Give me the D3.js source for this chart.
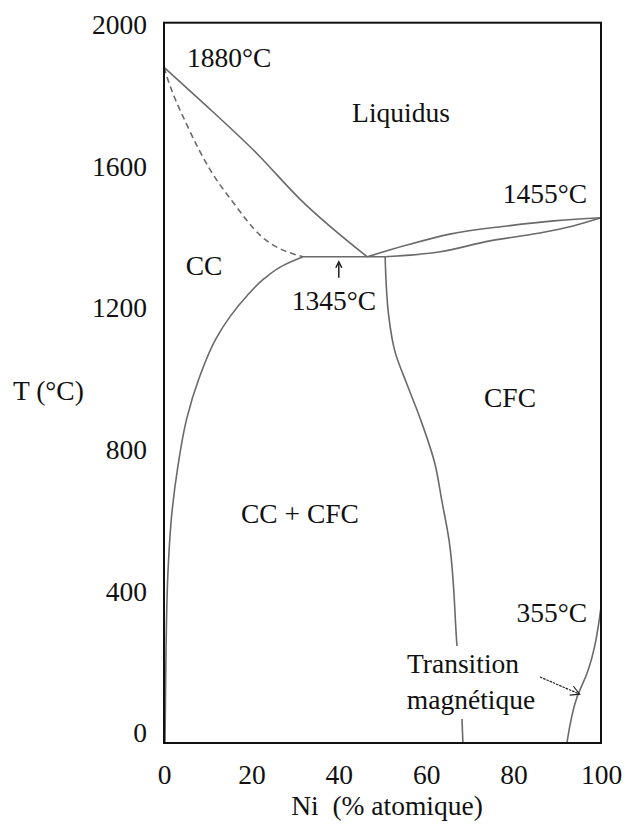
<!DOCTYPE html>
<html>
<head>
<meta charset="utf-8">
<script src="https://cdn.jsdelivr.net/npm/d3@7"></script>
<style>
  html, body { margin: 0; padding: 0; background: #fff; }
  svg { display: block; }
</style>
</head>
<body>
<svg id="chart" width="627" height="827"></svg>
<script>
// Cr–Ni phase diagram: composition in at.% Ni, temperature in °C
const xTicks = [0, 20, 40, 60, 80, 100];
const yTicks = [0, 400, 800, 1200, 1600, 2000];

const tMeltCr = 1880, tMeltNi = 1455, tEutectic = 1345, tCurie = 355;

// liquidus, Cr side (melting point of Cr down to the eutectic)
const liquidusCr = [[0, 1880], [8.2, 1788], [21.3, 1636], [31.1, 1508], [46.5, 1345]];
// solidus of the CC phase (dashed)
const solidusCC = [[0, 1880], [0.9, 1845], [5.3, 1716], [10.5, 1592], [15.8, 1499], [22.0, 1406], [31.8, 1345]];
// eutectic horizontal
const eutectic = [[31.8, 1345], [50.6, 1345]];
// solvus of the CC phase
const solvusCC = [[31.8, 1345], [27.2, 1320], [22.9, 1283], [19.0, 1235], [15.1, 1176], [11.9, 1114],
                  [8.0, 1001], [5.2, 888], [3.2, 755], [1.8, 621], [0.9, 452], [0.46, 235], [0.23, -28]];
// liquidus, Ni side
const liquidusNi = [[46.5, 1345], [55.6, 1378], [65.4, 1409], [78.5, 1432], [89.9, 1447], [100, 1455]];
// solidus, Ni side
const solidusNi = [[50.6, 1345], [63.2, 1359], [74.6, 1390], [86.0, 1412], [93.6, 1432], [100, 1455]];
// solvus of the CFC phase
const solvusCFC = [[50.6, 1345], [51.4, 1180], [52.9, 1075], [55.6, 985], [58.6, 889], [62.0, 760],
                   [63.6, 655], [65.2, 547], [67.0, 253], [68.2, 37], [68.4, -28]];
// magnetic transition line
const magnetic = [[100, 355], [96.8, 169], [94.5, 101], [92.2, -28]];

const FONT = "'Liberation Serif', 'Times New Roman', serif";
const fs = 27.5;

const svg = d3.select("#chart");

const x = d3.scaleLinear().domain([0, 100]).range([164, 601]);
const y = d3.scaleLinear().domain([-28, 2006]).range([743, 22.7]);

const px = d => x(d[0]), py = d => y(d[1]);
const straight = d3.line().x(px).y(py);
const alongX = d3.line().x(px).y(py).curve(d3.curveMonotoneX);
const alongY = d3.line().x(px).y(py).curve(d3.curveMonotoneY);

const lineColor = "#6a6a6a";
const g = svg.append("g");

function draw(data, gen, dashed) {
  g.append("path")
    .datum(data)
    .attr("d", gen)
    .attr("fill", "none")
    .attr("stroke", lineColor)
    .attr("stroke-width", 1.6)
    .attr("stroke-linejoin", "round")
    .attr("stroke-dasharray", dashed ? "6,4" : null);
}

// near-vertical curves are drawn as functions of temperature
const byY = data => data.slice().sort((a, b) => b[1] - a[1]);

draw(liquidusCr, alongX);
draw(solidusCC, alongX, true);
draw(eutectic, straight);
draw(byY(solvusCC), alongY);
draw(liquidusNi, alongX);
draw(solidusNi, alongX);
draw(byY(solvusCFC), alongY);
draw(byY(magnetic), alongY);

// frame
svg.append("rect")
  .attr("x", x(0)).attr("y", y(2006))
  .attr("width", x(100) - x(0)).attr("height", y(-28) - y(2006))
  .attr("fill", "none").attr("stroke", "#111").attr("stroke-width", 2);

// axes
function styleAxis(sel) {
  sel.select(".domain").remove();
  sel.attr("font-family", null).attr("font-size", null);
  sel.selectAll("text")
    .style("font-size", fs + "px").style("font-family", FONT).attr("fill", "#111");
}
svg.append("g")
  .attr("transform", `translate(0,${y(-28)})`)
  .call(d3.axisBottom(x).tickValues(xTicks).tickSize(0).tickPadding(21).tickFormat(d3.format("d")))
  .call(styleAxis);

svg.append("g")
  .attr("transform", `translate(${x(0)},0)`)
  .call(d3.axisLeft(y).tickValues(yTicks).tickSize(0).tickPadding(17).tickFormat(d3.format("d")))
  .call(styleAxis);

// text helper
function label(txt, lx, ly, anchor) {
  return svg.append("text").attr("x", lx).attr("y", ly)
    .attr("text-anchor", anchor || "start")
    .style("font-family", FONT).style("font-size", fs + "px")
    .attr("fill", "#111").text(txt);
}

// axis titles
label("T (°C)", 13, 400);
label("Ni  (% atomique)", 387, 815, "middle").attr("xml:space", "preserve").style("white-space", "pre");

// annotations
label(`${tMeltCr}°C`, 187, 67);
label("Liquidus", 401, 122, "middle");
label(`${tMeltNi}°C`, 587, 203, "end");
label("CC", 204, 275, "middle");
label(`${tEutectic}°C`, 334, 310, "middle");
label("CFC", 510, 407, "middle");
label("CC + CFC", 300, 523, "middle");
label(`${tCurie}°C`, 587, 622, "end");

// white patch behind the magnetic-transition caption
svg.append("rect").attr("x", 405).attr("y", 646).attr("width", 133).attr("height", 73).attr("fill", "#fff");
label("Transition", 463, 673, "middle");
label("magnétique", 471, 709, "middle");

// small arrow under the eutectic line
const ax = x(40);
svg.append("line").attr("x1", ax).attr("x2", ax).attr("y1", y(tEutectic) + 21).attr("y2", y(tEutectic) + 7)
  .attr("stroke", "#111").attr("stroke-width", 1.4);
svg.append("path")
  .attr("d", `M${ax - 3},${y(tEutectic) + 11} L${ax},${y(tEutectic) + 5} L${ax + 3},${y(tEutectic) + 11}`)
  .attr("fill", "none").attr("stroke", "#111").attr("stroke-width", 1.4);

// arrow pointing at the magnetic transition line
const tipX = x(95.1), tipY = y(110);
const tailX = 540, tailY = 677;
svg.append("line").attr("x1", tailX).attr("y1", tailY).attr("x2", tipX).attr("y2", tipY)
  .attr("stroke", "#222").attr("stroke-width", 1.2).attr("stroke-dasharray", "2.5,1");
const ang = Math.atan2(tipY - tailY, tipX - tailX);
const hl = 10, ha = 0.5;
svg.append("path")
  .attr("d", `M${tipX - hl * Math.cos(ang - ha)},${tipY - hl * Math.sin(ang - ha)} L${tipX},${tipY} L${tipX - hl * Math.cos(ang + ha)},${tipY - hl * Math.sin(ang + ha)}`)
  .attr("fill", "none").attr("stroke", "#222").attr("stroke-width", 1.2);
</script>
</body>
</html>
